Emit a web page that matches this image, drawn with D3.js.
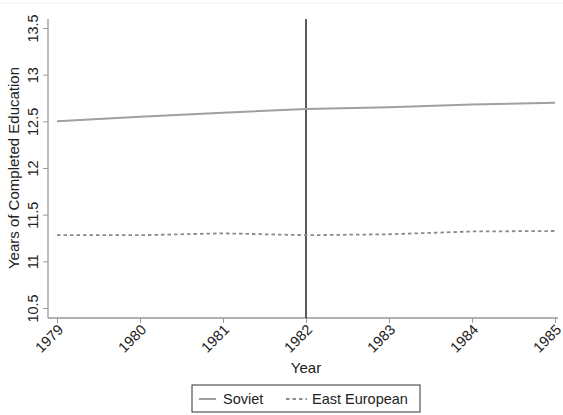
<!DOCTYPE html>
<html><head><meta charset="utf-8">
<script src="https://cdn.jsdelivr.net/npm/d3@7"></script>
<style>body{margin:0;background:#fff;font-family:"Liberation Sans",Arial,sans-serif;}</style>
</head><body><div id="c"></div>
<script>
const years = [1979,1980,1981,1982,1983,1984,1985];
const soviet = [12.50,12.55,12.593,12.633,12.65,12.68,12.70];
const eastEuropean = [11.28,11.28,11.30,11.28,11.29,11.32,11.325];
const yTicks = [10.5,11,11.5,12,12.5,13,13.5];
const seriesNames = ["Soviet","East European"];
const eventYear = 1982;

const W=563,H=415;
const svg=d3.select("#c").append("svg").attr("width",W).attr("height",H);
svg.append("rect").attr("width",W).attr("height",H).attr("fill","#fff");
svg.append("line").attr("x1",0).attr("x2",W).attr("y1",3).attr("y2",3).attr("stroke","#eee");

const x=d3.scaleLinear().domain([1979,1985]).range([57,555]);
const y=d3.scaleLinear().domain([10.5,13.5]).range([308,28]);
const axisColor="#999";

// y axis
const ya=svg.append("g").attr("transform","translate(48,0)")
  .call(d3.axisLeft(y).tickValues(yTicks).tickFormat(d3.format("")).tickSize(5).tickPadding(4));
ya.select(".domain").attr("d","M0,19V318").attr("stroke",axisColor).attr("stroke-width",1.3);
ya.selectAll(".tick line").attr("stroke",axisColor);
ya.selectAll(".tick text").attr("transform","rotate(-90)").attr("x",0).attr("y",-10)
  .attr("dy","0em").attr("text-anchor","middle").attr("font-size",14.5).attr("fill","#222")
  .attr("font-family","Liberation Sans, Arial, sans-serif");

// x axis
const xa=svg.append("g").attr("transform","translate(0,318)")
  .call(d3.axisBottom(x).tickValues(years).tickFormat(d3.format("d")).tickSize(5));
xa.select(".domain").attr("d","M48,0H558").attr("stroke",axisColor).attr("stroke-width",1.3);
xa.selectAll(".tick line").attr("stroke",axisColor);
xa.selectAll(".tick text").attr("transform","translate(3,9) rotate(-45)").attr("x",0).attr("y",0)
  .attr("dy","0.35em").attr("text-anchor","end").attr("font-size",14.5).attr("fill","#222")
  .attr("font-family","Liberation Sans, Arial, sans-serif");

// vertical event line
svg.append("line").attr("x1",x(eventYear)).attr("x2",x(eventYear)).attr("y1",19).attr("y2",318)
  .attr("stroke","#000").attr("stroke-width",1.3);

const line=d3.line().x((d,i)=>x(years[i])).y(d=>y(d));
svg.append("path").datum(soviet).attr("d",line).attr("fill","none").attr("stroke","#a0a0a0").attr("stroke-width",2);
svg.append("path").datum(eastEuropean).attr("d",line).attr("fill","none").attr("stroke","#8a8a8a")
  .attr("stroke-width",1.8).attr("stroke-dasharray","3.5,3");

// titles
svg.append("text").attr("x",306).attr("y",373).attr("text-anchor","middle").attr("font-size",15).attr("fill","#222").text("Year");
svg.append("text").attr("transform","translate(19,168) rotate(-90)").attr("text-anchor","middle").attr("font-size",15).attr("fill","#222").text("Years of Completed Education");

// legend
const lg=svg.append("g");
lg.append("rect").attr("x",192).attr("y",385).attr("width",228).attr("height",27).attr("fill","#fff").attr("stroke","#333").attr("stroke-width",1);
lg.append("line").attr("x1",199).attr("x2",216).attr("y1",399).attr("y2",399).attr("stroke","#a0a0a0").attr("stroke-width",2);
lg.append("text").attr("x",223).attr("y",404).attr("font-size",14.5).attr("fill","#222").text(seriesNames[0]);
lg.append("line").attr("x1",286).attr("x2",307).attr("y1",399).attr("y2",399).attr("stroke","#8a8a8a").attr("stroke-width",1.8).attr("stroke-dasharray","3.5,3");
lg.append("text").attr("x",312).attr("y",404).attr("font-size",14.5).attr("fill","#222").text(seriesNames[1]);
</script></body></html>
